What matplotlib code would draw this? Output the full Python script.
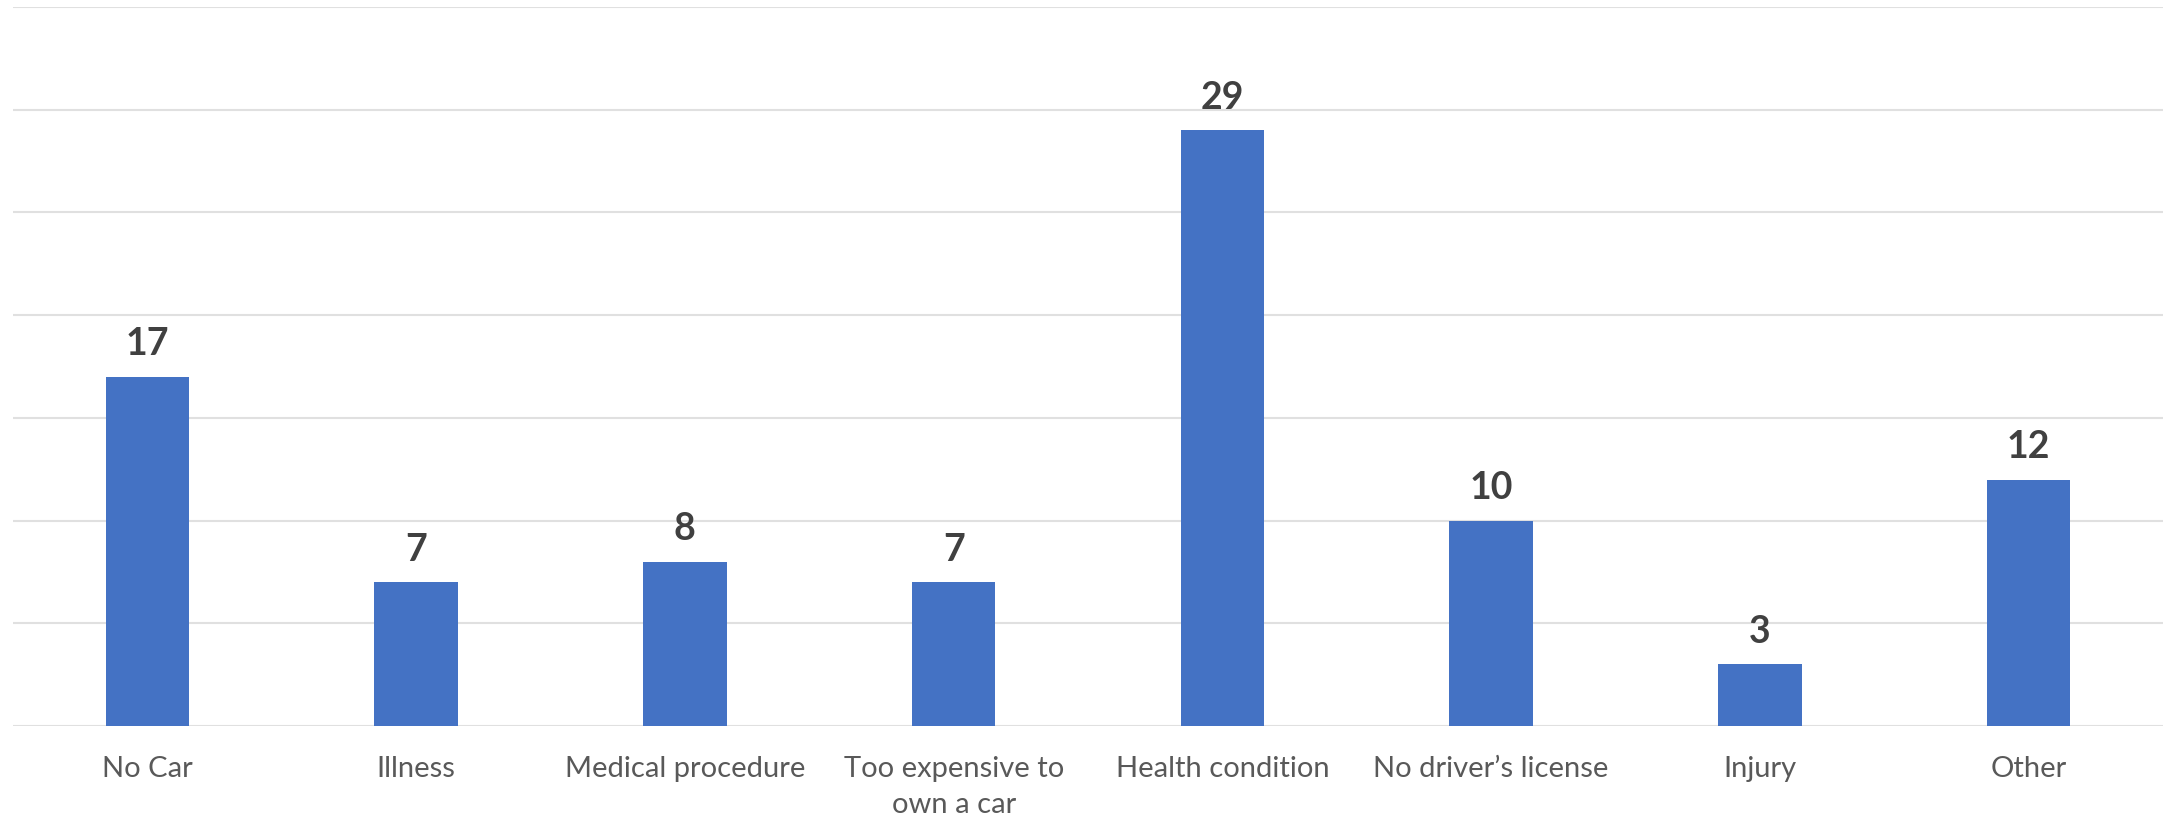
import matplotlib.pyplot as plt
import numpy as np

plt.rcParams['font.family'] = ['Lato', 'DejaVu Sans']

categories = ['No Car', 'Illness', 'Medical procedure', 'Too expensive to\nown a car',
              'Health condition', 'No driver\u2019s license', 'Injury', 'Other']
counts = [17, 7, 8, 7, 29, 10, 3, 12]

fig = plt.figure(figsize=(21.68, 8.2), dpi=100)
ax = fig.add_axes([0.006, 0.1134, 0.9917, 0.8768])

x = np.arange(len(categories))
bars = ax.bar(x, counts, width=0.31, color='#4472C4', zorder=3)

# value labels above bars
for b, v in zip(bars, counts):
    ax.annotate(str(v), (b.get_x() + b.get_width() / 2, v), xytext=(0, 12),
                textcoords='offset points', ha='center', va='bottom',
                fontsize=27, fontweight='bold', color='#404040')

ax.set_xlim(-0.5, len(categories) - 0.5)
ax.set_ylim(0, 35)
ax.set_yticks(np.arange(0, 36, 5))
ax.yaxis.grid(True, color='#E0E0E0', linewidth=1.5, zorder=0)
ax.tick_params(axis='y', left=False, labelleft=False)
ax.tick_params(axis='x', length=0, pad=21, labelsize=21, labelcolor='#595959')
ax.set_xticks(x)
ax.set_xticklabels(categories, linespacing=1.45, va='top')
for s in ax.spines.values():
    s.set_visible(False)

fig.savefig('out.png', dpi=100)
